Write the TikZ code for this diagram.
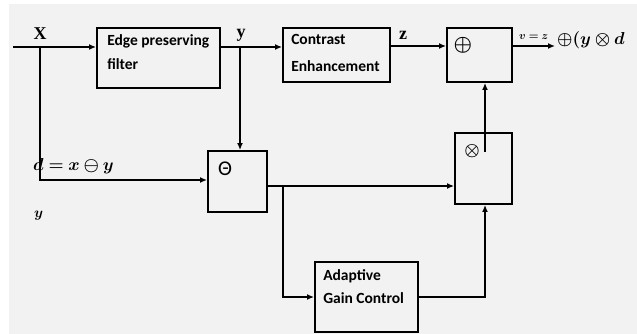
\documentclass[tikz,border=0pt]{standalone}
\usepackage{amsmath}
\usepackage{bm}
\usepackage{fontspec}
\setmainfont{Liberation Serif}
\newfontfamily\boxfont{Carlito}
\usetikzlibrary{arrows.meta,calc}
\definecolor{bg}{HTML}{F2F2F2}
\begin{document}
\begin{tikzpicture}[x=1pt,y=-1pt,
  blk/.style={draw=black,line width=1.9pt,minimum width=#1,inner sep=0pt},
  blk/.default=60pt,
  btxt/.style={font=\boxfont\bfseries\fontsize{15.5}{24}\selectfont,align=left,anchor=north west,inner sep=0pt},
  conn/.style={line width=1.6pt},
  arr/.style={line width=1.6pt,-{Latex[length=7pt,width=6pt]}},
  sig/.style={font=\bfseries\fontsize{18}{20}\selectfont,inner sep=0pt}]
\useasboundingbox (0,0) rectangle (637,334);
\fill[white] (0,0) rectangle (637,334);
\fill[bg] (9,4) rectangle (637,334);
% blocks
\node[blk=123pt,minimum height=60pt] (epf) at (158.5,58) {};
\node[blk=107pt,minimum height=54pt] (ce) at (336.5,55) {};
\node[blk=65pt,minimum height=54pt] (plus) at (479.5,55) {};
\node[blk=57pt,minimum height=71pt] (times) at (483.5,168.5) {};
\node[blk=59pt,minimum height=61pt] (theta) at (237.5,181.5) {};
\node[blk=103pt,minimum height=70pt] (agc) at (366.5,297) {};
% block texts
\node[btxt] (epft) at ($(epf.north west)+(11,7)$) {Edge preserving\\filter};
\node[btxt,font=\boxfont\bfseries\fontsize{15.5}{27}\selectfont] (cet) at ($(ce.north west)+(9,7)$) {Contrast\\Enhancement};
\node[btxt,font=\boxfont\bfseries\fontsize{15.5}{23}\selectfont] (agct) at ($(agc.north west)+(9,8)$) {Adaptive\\Gain Control};
\node[font=\fontsize{21}{22}\selectfont,inner sep=0pt] (plsym) at (463,45) {$\bm{\oplus}$};
\node[font=\fontsize{17}{18}\selectfont,inner sep=0pt] (tmsym) at (472,151) {$\bm{\otimes}$};
\node[font=\boxfont\fontsize{21}{22}\selectfont,inner sep=0pt] (thsym) at (225,169) {Θ};
% coordinates
\coordinate (in) at (13,47);
\coordinate (xb) at (40,47);
\coordinate (yb) at (240,47);
\coordinate (dpt) at (40,180);
\coordinate (tb) at (283,186);
\coordinate (mb) at (485,297);
\coordinate (tu) at (485,152);
\coordinate (zo) at (390,46);
\coordinate (out) at (555,46);
% connectors
\draw[arr] (in) -- (in -| epf.west);
\draw[arr] (epf.east |- yb) -- (yb -| ce.west);
\draw[arr] (zo -| ce.east) -- (zo -| plus.west);
\draw[arr] (out -| plus.east) -- (out);
\draw[arr] (xb) -- (dpt) -- (dpt -| theta.west);
\draw[arr] (yb) -- (yb |- theta.north);
\draw[conn] (theta.east |- tb) -- (tb);
\draw[arr] (tb) -- (tb -| times.west);
\draw[arr] (tb) -- (tb |- agc.west) -- (agc.west);
\draw[arr] (agc.east |- mb) -- (mb) -- (mb |- times.south);
\draw[arr] (tu) -- (tu |- plus.south);
% labels
\node[sig] (xl) at (40,34) {X};
\node[sig] (yl) at (241,35) {y};
\node[sig] (zl) at (403,35) {z};
\node[inner sep=0pt,anchor=west,font=\fontsize{16}{18}\selectfont] (dl) at (33,166) {$\bm{d = x \ominus y}$};
\node[inner sep=0pt,anchor=west,font=\fontsize{15}{18}\selectfont] (yy) at (34,216) {$\bm{y}$};
\node[inner sep=0pt,anchor=west,font=\fontsize{11}{12}\selectfont] (vl) at (519,37) {$\bm{v = z}$};
\node[inner sep=0pt,anchor=west,font=\fontsize{18}{20}\selectfont] (vr) at (557,40) {$\bm{\oplus(y \otimes d}$};
\end{tikzpicture}
\end{document}
